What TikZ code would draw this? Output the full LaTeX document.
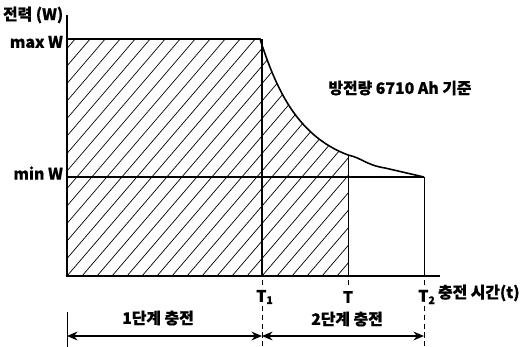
\documentclass[tikz,border=0pt]{standalone}
\usepackage{fontspec}
\setmainfont[FakeBold=0.5]{Noto Sans CJK KR}
\usetikzlibrary{positioning, arrows.meta, calc}

\begin{document}
\begin{tikzpicture}[x=0.02cm, y=-0.02cm,
        lbl/.style={inner sep=1pt, font=\fontsize{9}{10}\selectfont\bfseries},
        axisline/.style={black, line width=0.9pt},
        thinline/.style={black, line width=0.5pt},
        hatchline/.style={black, line width=0.4pt},
        extline/.style={black, line width=0.5pt, densely dashed},
        dimline/.style={black, line width=0.6pt, {Stealth[length=6pt,width=5pt]}-{Stealth[length=6pt,width=5pt]}}]
        \useasboundingbox (0,0) rectangle (523,347);

        \def\xo{67}
        \def\yo{276}
        \def\ymax{39}
        \def\ymin{177}
        \def\tone{262}
        \def\tmid{348}
        \def\ttwo{424}

        \coordinate (O) at (\xo,\yo);
        \coordinate (Ytop) at (\xo,15);
        \coordinate (Xend) at (440,\yo);
        \coordinate (Pmax) at (\xo,\ymax);
        \coordinate (Pmin) at (\xo,\ymin);
        \coordinate (A) at (260,\ymax);
        \coordinate (B) at (\tmid,155);
        \coordinate (C) at (\ttwo,\ymin);

        % hatched energy area
        \begin{scope}
            \clip (O) -- (Pmax) -- (A) .. controls (275,85) and (295,135) .. (B) -- (\tmid,\yo) -- cycle;
            \foreach \i in {0,...,36}
            {
                \draw[hatchline] (\xo-240+\i*15,\yo) -- ++(240,-280);
            }
        \end{scope}

        % power curve
        \draw[axisline] (Pmax) -- (A) .. controls (275,85) and (295,135) .. (B)
            .. controls (362,158) and (366,165) .. (385,168) -- (C);
        \draw[axisline] (\tone,\ymax) -- (\tone,\yo);
        \draw[thinline] (B) -- (\tmid,\yo);
        \draw[thinline] (C) -- (\ttwo,\yo);
        \draw[black, line width=0.8pt] (Pmin) -- (C);

        % axes
        \draw[axisline] (Ytop) -- (O) -- (Xend);

        % ticks below the axis
        \foreach \x in {\tone,\tmid,\ttwo}
        {
            \draw[extline] (\x,280) -- (\x,285);
        }

        % labels
        \node[lbl, anchor=west] (ylbl) at (1,15) {전력 (W)};
        \node[lbl, anchor=east] (maxw) at (65,42) {max W};
        \node[lbl, anchor=east] (minw) at (65,173) {min W};
        \node[lbl] (note) at (400,88) {방전량 6710 Ah 기준};
        \node[lbl] (tlone) at (\tone+3,297) {T\textsubscript{1}};
        \node[lbl] (tlmid) at (\tmid,297) {T};
        \node[lbl] (tltwo) at (\ttwo+3,297) {T\textsubscript{2}};
        \node[lbl, anchor=west] (xlbl) at (436,293) {충전 시간(t)};

        % stage dimensions
        \coordinate (d0) at (\xo,336);
        \coordinate (d1) at (\tone,336);
        \coordinate (d2) at (\ttwo,336);
        \draw[black, line width=0.5pt] (\xo,312) -- (\xo,347);
        \draw[extline] (\tone,306) -- (\tone,347);
        \draw[extline] (\ttwo,306) -- (\ttwo,347);
        \draw[dimline] (d0) -- (d1);
        \draw[dimline] (d1) -- (d2);
        \node[lbl] (stone) at (158,318) {1단계 충전};
        \node[lbl] (sttwo) at (347,319) {2단계 충전};
    \end{tikzpicture}
\end{document}
